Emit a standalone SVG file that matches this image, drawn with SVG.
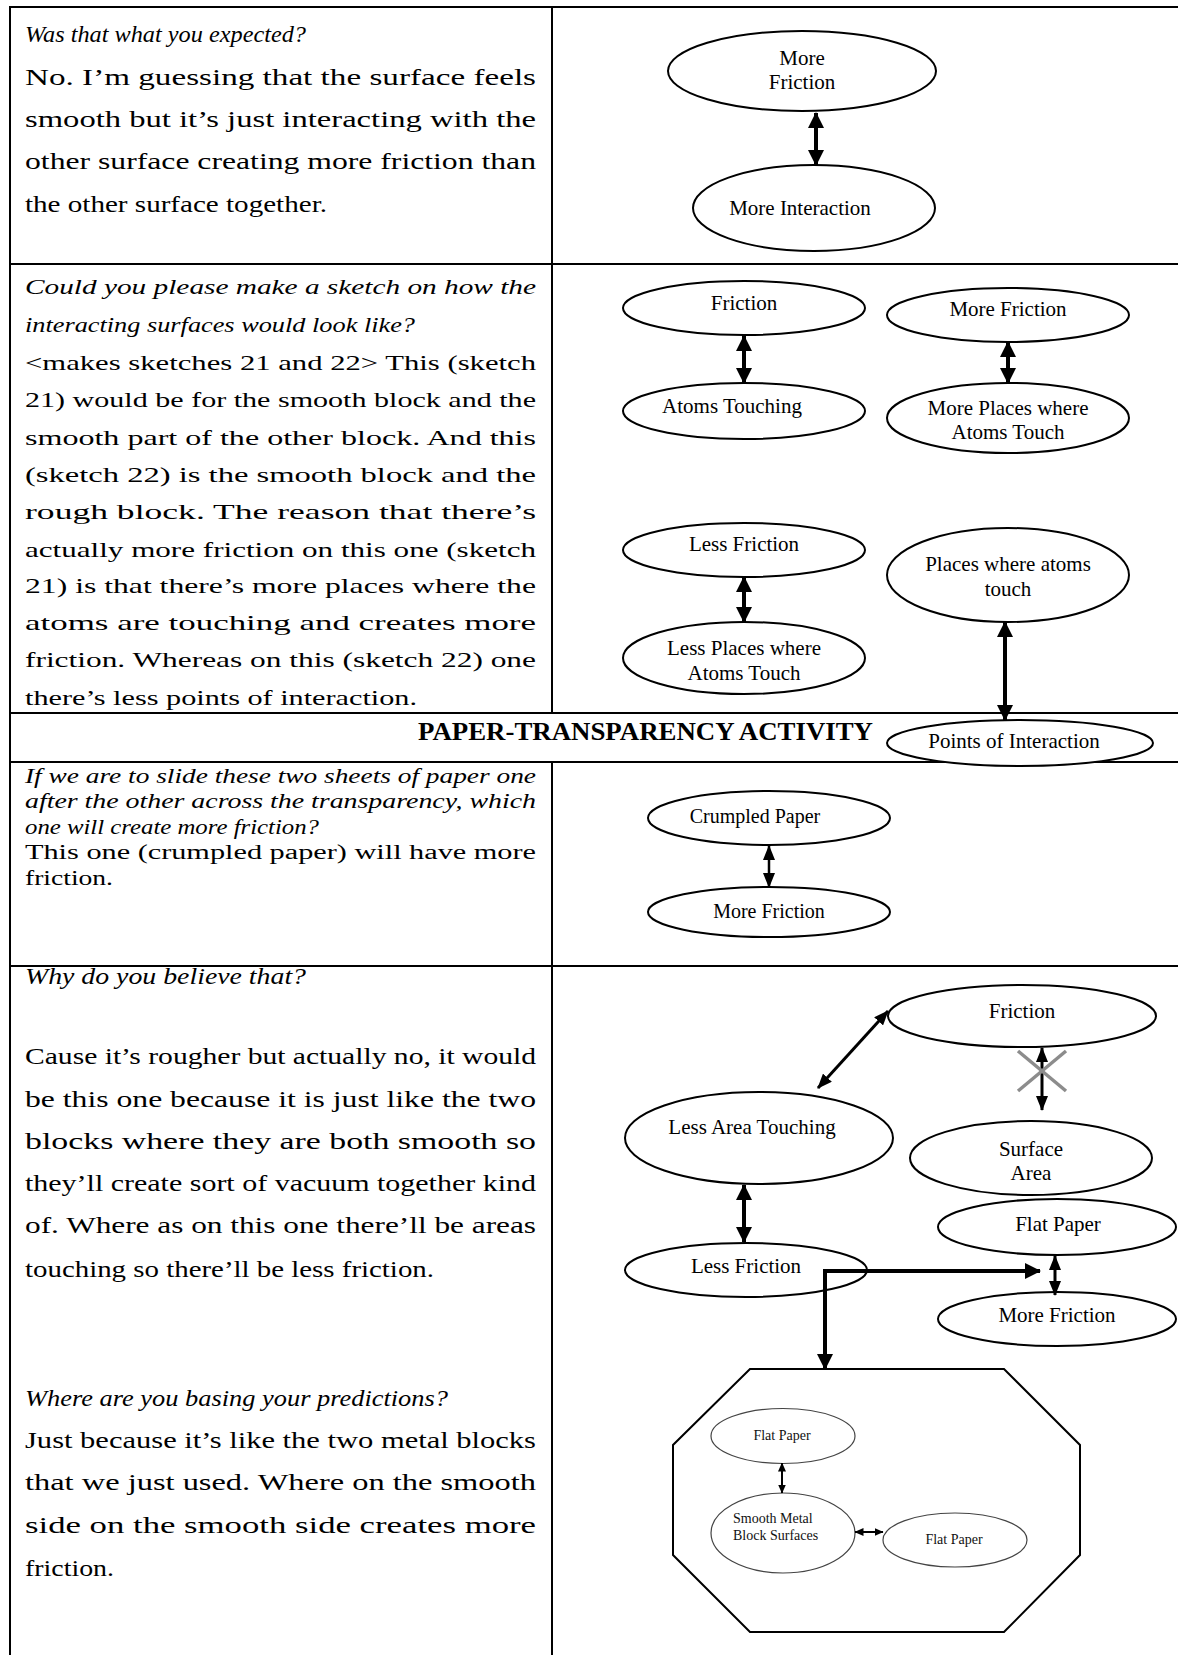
<svg xmlns="http://www.w3.org/2000/svg" width="1178" height="1655" viewBox="0 0 1178 1655">
<style>
.tl{stroke:#000;stroke-width:2;fill:none}
.bt{font-family:"Liberation Serif","Times New Roman",serif;fill:#000}
.b1{font-size:23px}
.b2{font-size:22px}
.b3{font-size:20px}
.b4{font-size:24px}
.it{font-style:italic}
.hd{font-family:"Liberation Serif","Times New Roman",serif;font-size:26px;font-weight:bold;fill:#000}
.nd{fill:#fff;stroke:#000;stroke-width:2}
.ni{fill:#fff;stroke:#444;stroke-width:1.2}
.nt{font-family:"Liberation Serif","Times New Roman",serif;font-size:21px;fill:#000;text-anchor:middle}
.ns{font-family:"Liberation Serif","Times New Roman",serif;font-size:14px;fill:#111}
.c4{stroke:#000;stroke-width:4;fill:none;marker-start:url(#ahL);marker-end:url(#ahL)}
.c3{stroke:#000;stroke-width:3;fill:none;marker-start:url(#ahM);marker-end:url(#ahM)}
.c2{stroke:#000;stroke-width:2.5;fill:none;marker-start:url(#ahM);marker-end:url(#ahM)}
.c1{stroke:#000;stroke-width:2;fill:none;marker-start:url(#ahS);marker-end:url(#ahS)}
.xx{stroke:#8c8c8c;stroke-width:3.5}
</style>
<defs>
<marker id="ahL" markerUnits="userSpaceOnUse" markerWidth="16" markerHeight="16" refX="15" refY="8" orient="auto-start-reverse"><path d="M0,0 L16,8 L0,16 z" fill="#000"/></marker>
<marker id="ahM" markerUnits="userSpaceOnUse" markerWidth="15" markerHeight="12" refX="14" refY="6" orient="auto-start-reverse"><path d="M0,0 L15,6 L0,12 z" fill="#000"/></marker>
<marker id="ahS" markerUnits="userSpaceOnUse" markerWidth="9" markerHeight="8" refX="8.5" refY="4" orient="auto-start-reverse"><path d="M0,0 L9,4 L0,8 z" fill="#000"/></marker>
</defs>
<rect x="0" y="0" width="1178" height="1655" fill="#fff"/>

<g id="table">
<line class="tl" x1="9" y1="7" x2="1178" y2="7"/>
<line class="tl" x1="10" y1="7" x2="10" y2="1655"/>
<line class="tl" x1="552" y1="7" x2="552" y2="713"/>
<line class="tl" x1="552" y1="762" x2="552" y2="1655"/>
<line class="tl" x1="9" y1="264" x2="1178" y2="264"/>
<line class="tl" x1="9" y1="713" x2="1178" y2="713"/>
<line class="tl" x1="9" y1="762" x2="1178" y2="762"/>
<line class="tl" x1="9" y1="966" x2="1178" y2="966"/>
</g>

<g id="text-row1" class="bt b1">
<text class="it" x="25" y="42" textLength="281" lengthAdjust="spacingAndGlyphs">Was that what you expected?</text>
<text x="25" y="85" textLength="511" lengthAdjust="spacingAndGlyphs">No. I’m  guessing that  the surface feels</text>
<text x="25" y="127" textLength="511" lengthAdjust="spacingAndGlyphs">smooth but it’s just interacting with the</text>
<text x="25" y="169" textLength="511" lengthAdjust="spacingAndGlyphs">other surface creating more friction than</text>
<text x="25" y="212" textLength="302" lengthAdjust="spacingAndGlyphs">the other surface together.</text>
</g>

<g id="text-row2" class="bt b2">
<text class="it" x="25" y="294" textLength="511" lengthAdjust="spacingAndGlyphs">Could you please make a sketch on how the</text>
<text class="it" x="25" y="332" textLength="390" lengthAdjust="spacingAndGlyphs">interacting surfaces would look like?</text>
<text x="25" y="370" textLength="511" lengthAdjust="spacingAndGlyphs">&lt;makes sketches 21 and 22&gt; This (sketch</text>
<text x="25" y="407" textLength="511" lengthAdjust="spacingAndGlyphs">21) would be for the smooth block  and the</text>
<text x="25" y="445" textLength="511" lengthAdjust="spacingAndGlyphs">smooth part of the other block. And this</text>
<text x="25" y="482" textLength="511" lengthAdjust="spacingAndGlyphs">(sketch 22) is the smooth block and the</text>
<text x="25" y="519" textLength="511" lengthAdjust="spacingAndGlyphs">rough block. The reason that there’s</text>
<text x="25" y="557" textLength="511" lengthAdjust="spacingAndGlyphs">actually more friction on this one (sketch</text>
<text x="25" y="593" textLength="511" lengthAdjust="spacingAndGlyphs">21) is that there’s more  places where the</text>
<text x="25" y="630" textLength="511" lengthAdjust="spacingAndGlyphs">atoms are touching and creates more</text>
<text x="25" y="667" textLength="511" lengthAdjust="spacingAndGlyphs">friction.  Whereas on this  (sketch 22) one</text>
<text x="25" y="705" textLength="392" lengthAdjust="spacingAndGlyphs">there’s less points of interaction.</text>
</g>

<text id="header" class="hd" x="418" y="740" textLength="455" lengthAdjust="spacingAndGlyphs">PAPER-TRANSPARENCY ACTIVITY</text>

<g id="text-row3" class="bt b3">
<text class="it" x="25" y="783" textLength="511" lengthAdjust="spacingAndGlyphs">If we are to slide these two sheets of paper one</text>
<text class="it" x="25" y="808" textLength="511" lengthAdjust="spacingAndGlyphs">after the other across the transparency, which</text>
<text class="it" x="25" y="834" textLength="294" lengthAdjust="spacingAndGlyphs">one will create more friction?</text>
<text x="25" y="859" textLength="511" lengthAdjust="spacingAndGlyphs">This one (crumpled paper) will have more</text>
<text x="25" y="885" textLength="88" lengthAdjust="spacingAndGlyphs">friction.</text>
</g>

<g id="text-row4" class="bt b4">
<text class="it" x="25" y="984" textLength="281" lengthAdjust="spacingAndGlyphs">Why do you believe that?</text>
<text x="25" y="1064" textLength="511" lengthAdjust="spacingAndGlyphs">Cause it’s rougher but actually no, it would</text>
<text x="25" y="1107" textLength="511" lengthAdjust="spacingAndGlyphs">be this one because it is just like the two</text>
<text x="25" y="1149" textLength="511" lengthAdjust="spacingAndGlyphs">blocks where they are both smooth so</text>
<text x="25" y="1191" textLength="511" lengthAdjust="spacingAndGlyphs">they’ll create sort of vacuum together kind</text>
<text x="25" y="1233" textLength="511" lengthAdjust="spacingAndGlyphs">of. Where as on this one there’ll be areas</text>
<text x="25" y="1277" textLength="409" lengthAdjust="spacingAndGlyphs">touching so there’ll be less friction.</text>
<text class="it" x="25" y="1406" textLength="423" lengthAdjust="spacingAndGlyphs">Where are you basing your predictions?</text>
<text x="25" y="1448" textLength="511" lengthAdjust="spacingAndGlyphs">Just because it’s like the two metal blocks</text>
<text x="25" y="1490" textLength="511" lengthAdjust="spacingAndGlyphs">that we just used. Where on the smooth</text>
<text x="25" y="1533" textLength="511" lengthAdjust="spacingAndGlyphs">side on the smooth side creates more</text>
<text x="25" y="1576" textLength="89" lengthAdjust="spacingAndGlyphs">friction.</text>
</g>

<g id="n-more-friction-1"><ellipse class="nd" cx="802" cy="71" rx="134" ry="40"/><text class="nt" x="802" y="65">More</text><text class="nt" x="802" y="89">Friction</text></g>
<g id="n-more-interaction"><ellipse class="nd" cx="814" cy="208" rx="121" ry="43"/><text class="nt" x="800" y="215">More Interaction</text></g>

<g id="n-friction-2"><ellipse class="nd" cx="744" cy="308" rx="121" ry="27"/><text class="nt" x="744" y="310">Friction</text></g>
<g id="n-atoms-touching"><ellipse class="nd" cx="744" cy="411" rx="121" ry="28"/><text class="nt" x="732" y="413">Atoms Touching</text></g>
<g id="n-more-friction-2"><ellipse class="nd" cx="1008" cy="315" rx="121" ry="27"/><text class="nt" x="1008" y="316">More Friction</text></g>
<g id="n-more-places"><ellipse class="nd" cx="1008" cy="418" rx="121" ry="35"/><text class="nt" x="1008" y="415">More Places where</text><text class="nt" x="1008" y="439">Atoms Touch</text></g>
<g id="n-less-friction-2"><ellipse class="nd" cx="744" cy="550" rx="121" ry="27"/><text class="nt" x="744" y="551">Less Friction</text></g>
<g id="n-less-places"><ellipse class="nd" cx="744" cy="658" rx="121" ry="36"/><text class="nt" x="744" y="655">Less Places where</text><text class="nt" x="744" y="680">Atoms Touch</text></g>
<g id="n-places-atoms"><ellipse class="nd" cx="1008" cy="575" rx="121" ry="47"/><text class="nt" x="1008" y="571">Places where atoms</text><text class="nt" x="1008" y="596">touch</text></g>
<g id="n-points"><ellipse class="nd" cx="1020" cy="743" rx="133" ry="23"/><text class="nt" x="1014" y="748">Points of Interaction</text></g>

<g id="n-crumpled"><ellipse class="nd" cx="769" cy="818" rx="121" ry="27"/><text class="nt" x="755" y="823" style="font-size:20px">Crumpled Paper</text></g>
<g id="n-more-friction-3"><ellipse class="nd" cx="769" cy="912" rx="121" ry="25"/><text class="nt" x="769" y="918" style="font-size:20px">More Friction</text></g>

<g id="n-friction-4"><ellipse class="nd" cx="1022" cy="1016" rx="134" ry="31"/><text class="nt" x="1022" y="1018">Friction</text></g>
<g id="n-less-area"><ellipse class="nd" cx="759" cy="1138" rx="134" ry="46"/><text class="nt" x="752" y="1134">Less Area Touching</text></g>
<g id="n-surface-area"><ellipse class="nd" cx="1031" cy="1158" rx="121" ry="37"/><text class="nt" x="1031" y="1156">Surface</text><text class="nt" x="1031" y="1180">Area</text></g>
<g id="n-less-friction-4"><ellipse class="nd" cx="746" cy="1270" rx="121" ry="27"/><text class="nt" x="746" y="1273">Less Friction</text></g>
<g id="n-flat-paper"><ellipse class="nd" cx="1057" cy="1227" rx="119" ry="28"/><text class="nt" x="1058" y="1231">Flat Paper</text></g>
<g id="n-more-friction-4"><ellipse class="nd" cx="1057" cy="1319" rx="119" ry="27"/><text class="nt" x="1057" y="1322">More Friction</text></g>

<g id="n-octagon">
<polygon points="750,1369 1004,1369 1080,1445 1080,1555 1004,1632 750,1632 673,1555 673,1445" fill="none" stroke="#000" stroke-width="2"/>
</g>
<g id="n-inner-flat-top"><ellipse class="ni" cx="783" cy="1436" rx="72" ry="27.5"/><text class="ns" x="782" y="1440" text-anchor="middle">Flat Paper</text></g>
<g id="n-inner-smooth"><ellipse class="ni" cx="783" cy="1533" rx="72" ry="40"/><text class="ns" x="733" y="1523">Smooth Metal</text><text class="ns" x="733" y="1540">Block Surfaces</text></g>
<g id="n-inner-flat-right"><ellipse class="ni" cx="955" cy="1540" rx="72" ry="27"/><text class="ns" x="954" y="1544" text-anchor="middle">Flat Paper</text></g>

<g id="connectors">
<line class="c4" x1="816" y1="113" x2="816" y2="165"/>
<line class="c4" x1="744" y1="336" x2="744" y2="383"/>
<line class="c4" x1="1008" y1="342" x2="1008" y2="383"/>
<line class="c4" x1="744" y1="577" x2="744" y2="622"/>
<line class="c4" x1="1005" y1="622" x2="1005" y2="720"/>
<line class="c2" x1="769" y1="846" x2="769" y2="887"/>
<line class="c3" x1="818" y1="1088" x2="888" y2="1011"/>
<line class="c3" x1="1042" y1="1048" x2="1042" y2="1110"/>
<line class="c4" x1="744" y1="1185" x2="744" y2="1242"/>
<line class="c3" x1="1055" y1="1256" x2="1055" y2="1295"/>
<polyline class="c4" points="1040,1271 825,1271 825,1369"/>
<line class="c1" x1="782" y1="1463" x2="782" y2="1493"/>
<line class="c1" x1="855" y1="1532" x2="883" y2="1532"/>
<g id="cross">
<line class="xx" x1="1018" y1="1051" x2="1066" y2="1091"/>
<line class="xx" x1="1066" y1="1051" x2="1018" y2="1091"/>
</g>
</g>
</svg>
